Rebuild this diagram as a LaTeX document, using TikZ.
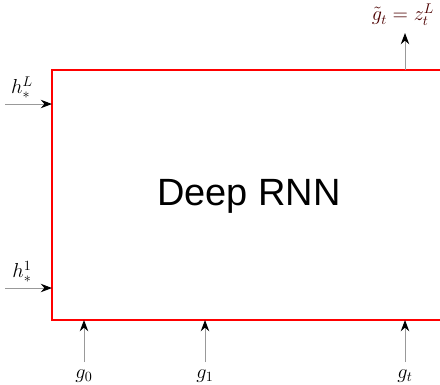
\documentclass[tikz,border=0pt]{standalone}
\usepackage{amsmath}
\usepackage{fontspec}
\newfontfamily\arialfont{Liberation Sans}
\usetikzlibrary{arrows.meta}

\begin{document}
\begin{tikzpicture}[x=0.025cm, y=-0.025cm,
    feed/.style={draw=gray!80, line width=0.7pt, -{Stealth[black, length=8pt, width=6pt]}},
    lbl/.style={inner sep=0pt, font=\Large}]
  % canvas 440 x 384 px, 1 px = 0.025 cm
  \useasboundingbox (0,0) rectangle (440,384);
  \clip (0,0) rectangle (440,384);

  % Deep RNN block (runs past the right edge)
  \draw[red, line width=1.8pt] (460,70) -- (52,70) -- (52,320) -- (460,320);
  \node[font=\arialfont\fontsize{27}{32}\selectfont] (rnn) at (249,196) {Deep RNN};

  % hidden states coming in from the left
  \coordinate (hLs) at (5,104);   \coordinate (hLe) at (52,104);
  \coordinate (h1s) at (5,288);   \coordinate (h1e) at (52,288);
  \node[lbl] (hL) at (22,88) {$h_*^L$};
  \node[lbl] (h1) at (22,272) {$h_*^1$};
  \draw[feed] (hLs) -- (hLe);
  \draw[feed] (h1s) -- (h1e);

  % inputs from below
  \foreach \name/\x/\txt in {g0/84/g_0, g1/205/g_1, gt/405/g_t} {
    \coordinate (\name s) at (\x,362);
    \coordinate (\name e) at (\x,320);
    \node[lbl] (\name) at (\x,376) {$\txt$};
    \draw[feed] (\name s) -- (\name e);
  }

  % output at the top
  \coordinate (outs) at (405,70);
  \coordinate (oute) at (405,33);
  \node[lbl, text=red!30!black] (out) at (403,15) {$\tilde g_t = z_t^L$};
  \draw[feed] (outs) -- (oute);
\end{tikzpicture}
\end{document}
